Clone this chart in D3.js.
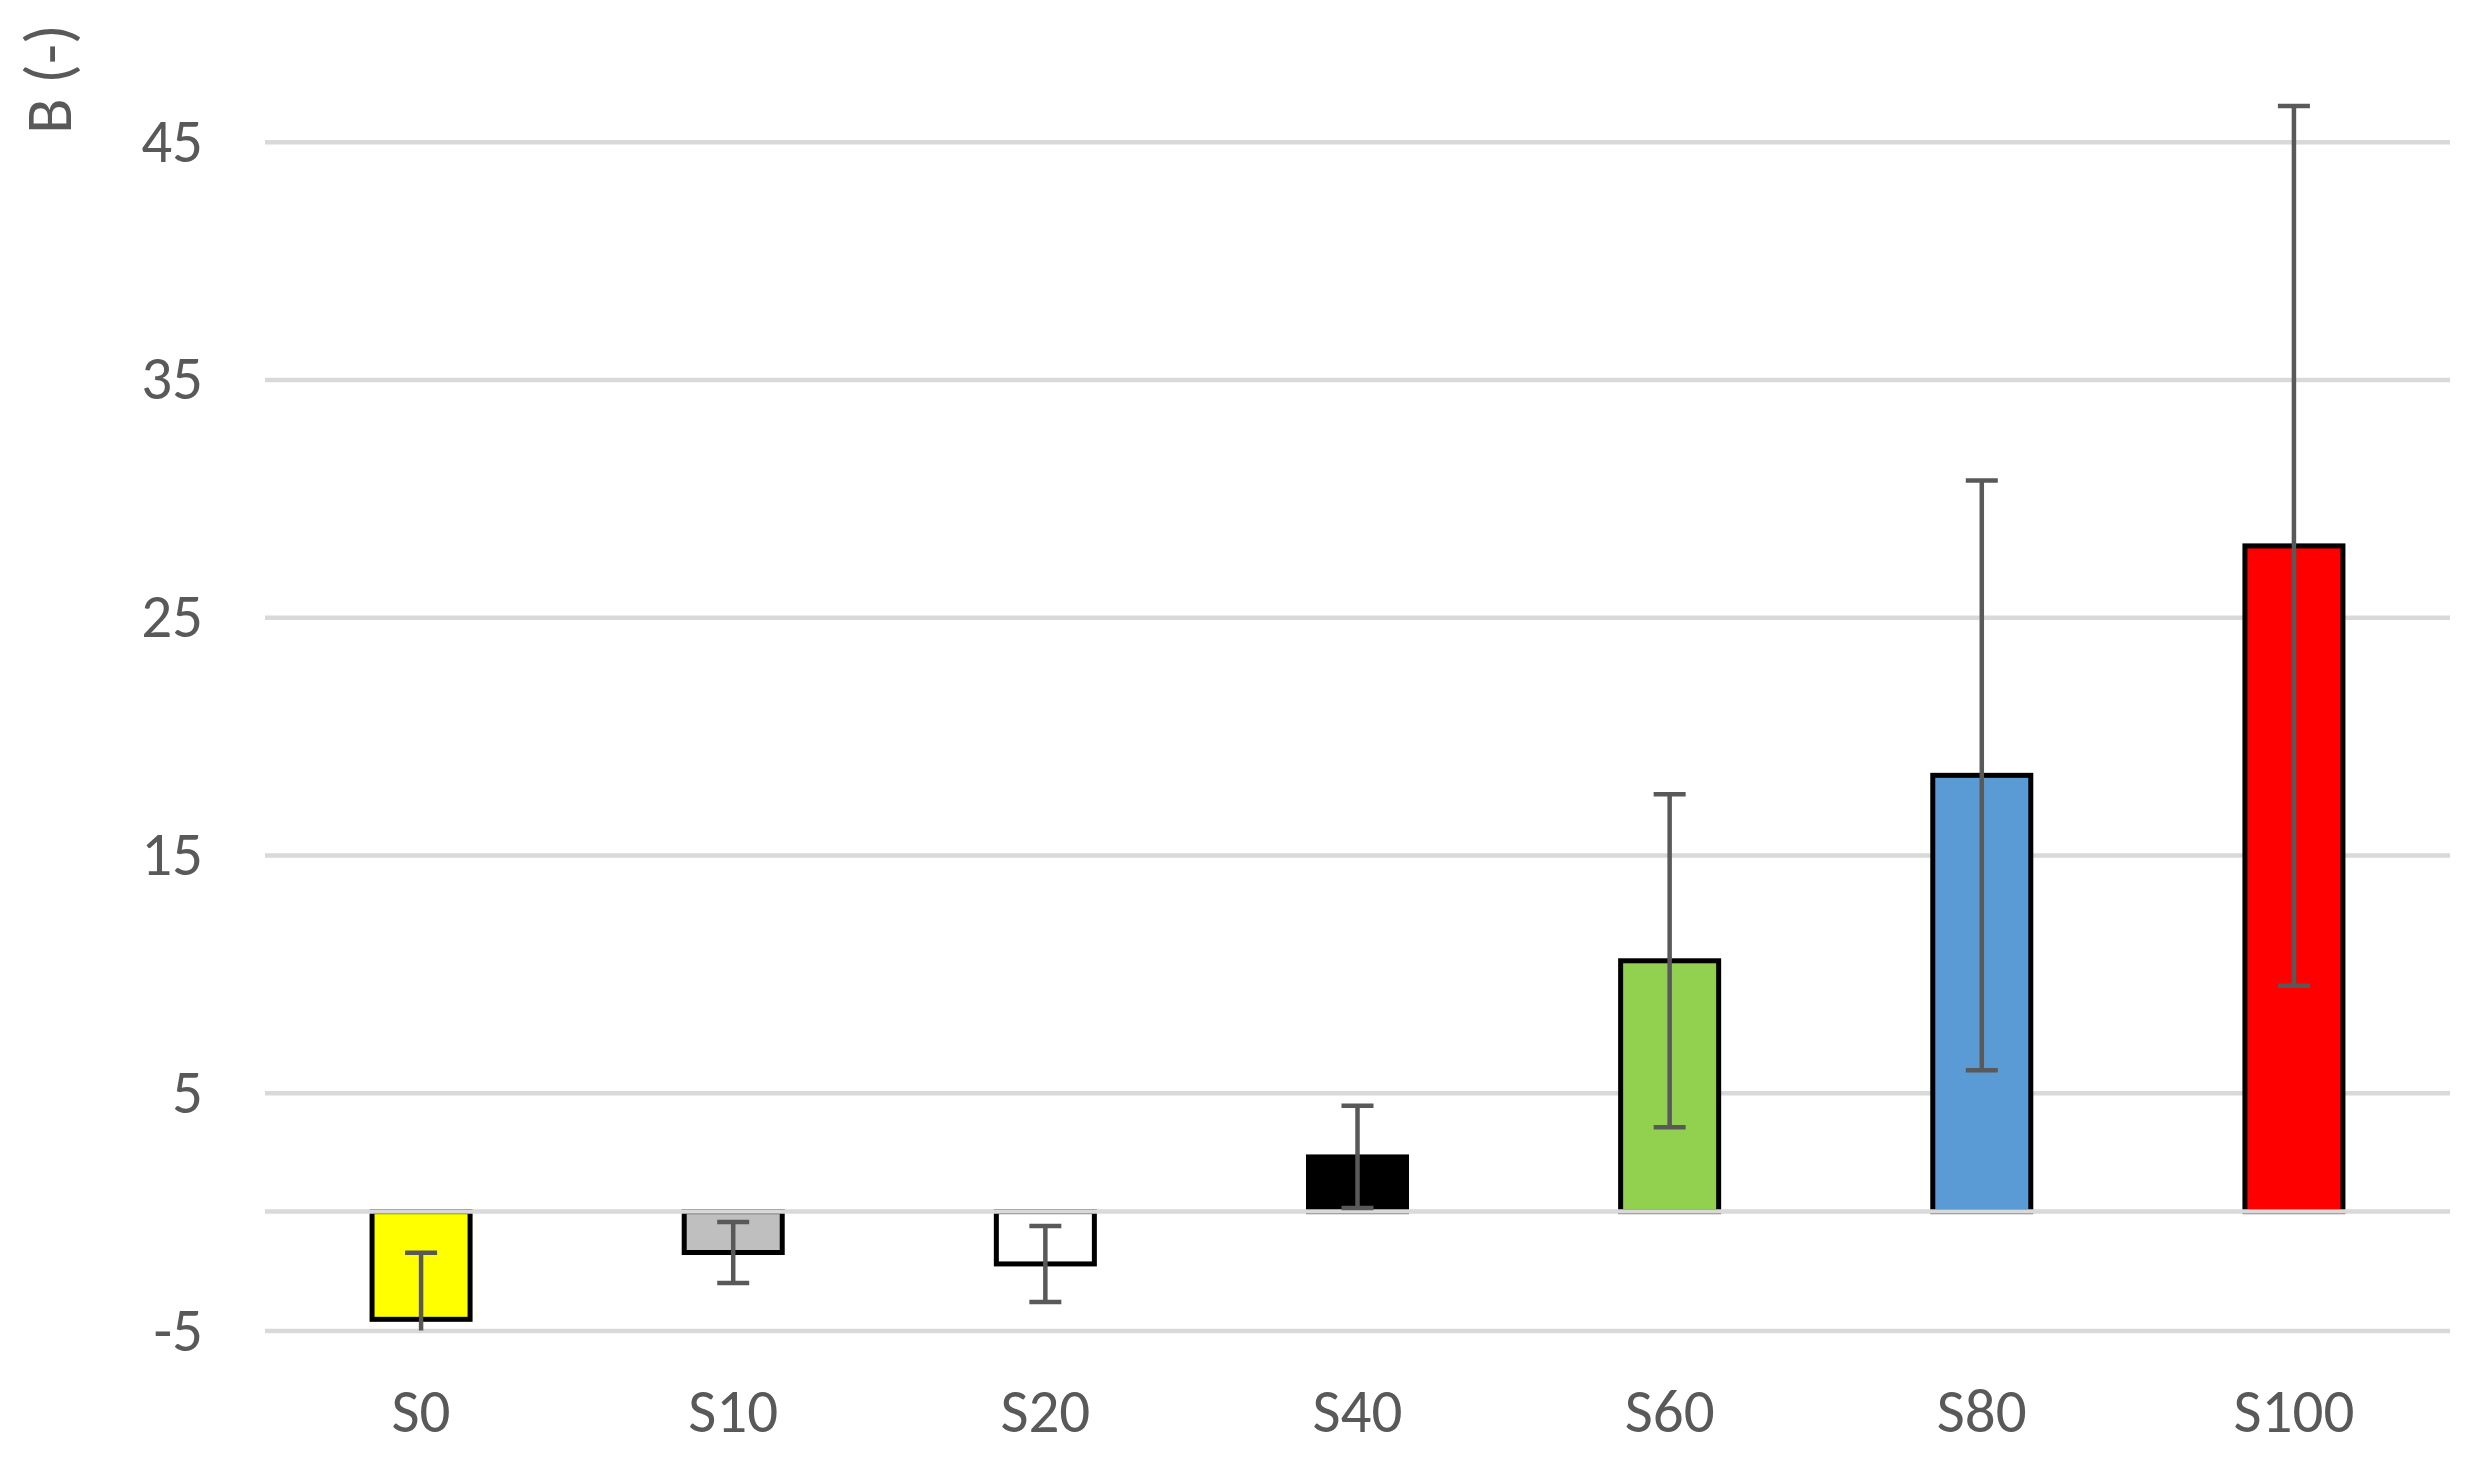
<!DOCTYPE html>
<html>
<head>
<meta charset="utf-8">
<script src="https://cdn.jsdelivr.net/npm/d3@7"></script>
<style>
  body { margin: 0; background: #fff; }
  text { font-family: Carlito, Calibri, Lato, sans-serif; fill: #595959; }
</style>
</head>
<body>
<script>
// data
const categories = ["S0", "S10", "S20", "S40", "S60", "S80", "S100"];
const values = [-4.53, -1.72, -2.2, 2.3, 10.55, 18.35, 28.0];
const errors = [2.8, 1.28, 1.6, 2.15, 7.0, 12.4, 18.5];
const colors = ["#ffff00", "#bfbfbf", "#ffffff", "#000000", "#92d050", "#5b9bd5", "#ff0000"];
const yTicks = [-5, 5, 15, 25, 35, 45];
const yTitle = "B (-)";

const width = 2469, height = 1458;
const plotLeft = 265, plotRight = 2450;
const labelSize = 61;

let svg = d3.select("body")
  .append("svg")
  .attr("width", width)
  .attr("height", height);

let x = d3.scaleBand()
  .domain(categories)
  .range([plotLeft, plotRight])
  .paddingInner(0.686)
  .paddingOuter(0.343);

let y = d3.scaleLinear()
  .domain([-5, 45])
  .range([1330.5, 141.7]);

// gridlines + tick labels (plain hyphen for negatives, like the original)
let yAxis = d3.axisLeft(y)
  .tickValues(yTicks)
  .tickSize(-(plotRight - plotLeft))
  .tickPadding(62)
  .tickFormat(d => String(d));

let gAxis = svg.append("g")
  .attr("transform", `translate(${plotLeft},0)`)
  .call(yAxis);
gAxis.select(".domain").remove();
gAxis.selectAll(".tick line")
  .attr("stroke", "#d9d9d9")
  .attr("stroke-width", 4.5);
gAxis.selectAll(".tick text")
  .attr("font-size", labelSize)
  .attr("fill", "#595959")
  .style("font-family", "Carlito, Calibri, Lato, sans-serif");

let data = categories.map((c, i) => ({ name: c, value: values[i], err: errors[i], color: colors[i] }));

// bars
svg.append("g").selectAll("rect")
  .data(data)
  .join("rect")
  .attr("x", d => x(d.name))
  .attr("width", x.bandwidth())
  .attr("y", d => y(Math.max(d.value, 0)))
  .attr("height", d => Math.abs(y(d.value) - y(0)))
  .attr("fill", d => d.color)
  .attr("stroke", "#000")
  .attr("stroke-width", 5);

// horizontal axis line at zero, drawn over the bars
svg.append("line")
  .attr("x1", plotLeft)
  .attr("x2", plotRight)
  .attr("y1", y(0))
  .attr("y2", y(0))
  .attr("stroke", "#d9d9d9")
  .attr("stroke-width", 4.5);

// error bars (lower end clipped at the axis minimum, no cap there)
let capHalf = 16;
let yMin = y.domain()[0];
let gErr = svg.append("g")
  .attr("stroke", "#595959")
  .attr("stroke-width", 4.5);

data.forEach(d => {
  let cx = x(d.name) + x.bandwidth() / 2;
  let hi = d.value + d.err;
  let lo = Math.max(d.value - d.err, yMin);
  gErr.append("line")
    .attr("x1", cx).attr("x2", cx)
    .attr("y1", y(hi)).attr("y2", y(lo));
  gErr.append("line")
    .attr("x1", cx - capHalf).attr("x2", cx + capHalf)
    .attr("y1", y(hi)).attr("y2", y(hi));
  if (d.value - d.err > yMin) {
    gErr.append("line")
      .attr("x1", cx - capHalf).attr("x2", cx + capHalf)
      .attr("y1", y(lo)).attr("y2", y(lo));
  }
});

// category labels
svg.append("g").selectAll("text")
  .data(categories)
  .join("text")
  .attr("x", d => x(d) + x.bandwidth() / 2)
  .attr("y", 1432)
  .attr("text-anchor", "middle")
  .attr("font-size", labelSize)
  .text(d => d);

// y axis title, rotated, up in the corner
svg.append("text")
  .attr("transform", "translate(71,79) rotate(-90)")
  .attr("text-anchor", "middle")
  .attr("font-size", 65)
  .text(yTitle);
</script>
</body>
</html>
